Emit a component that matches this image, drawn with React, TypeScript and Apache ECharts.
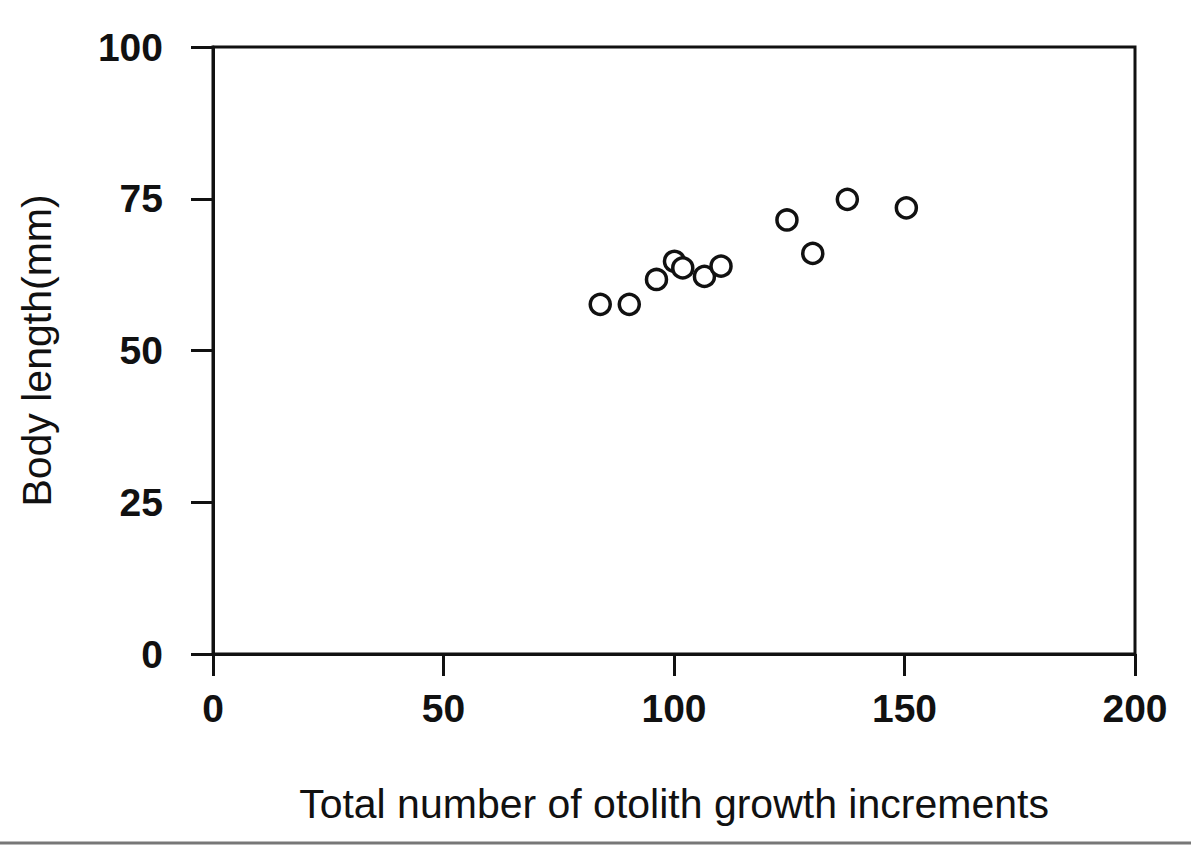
import React, { useEffect, useRef } from "react";
import * as echarts from "echarts";

const increments: number[] = [84, 90.3, 96.2, 100.1, 101.9, 106.6, 110.2, 124.5, 130.1, 137.6, 150.4];
const bodyLength: number[] = [57.6, 57.6, 61.7, 64.7, 63.6, 62.2, 63.9, 71.5, 66.0, 74.9, 73.5];
const xTicks: number[] = [0, 50, 100, 150, 200];
const yTicks: number[] = [0, 25, 50, 75, 100];
const xTitle = "Total number of otolith growth increments";
const yTitle = "Body length(mm)";

export default function App() {
  const ref = useRef<HTMLDivElement>(null);
  useEffect(() => {
    if (!ref.current) return;
    const chart = echarts.init(ref.current, null, { renderer: "svg" });
    const font = "'Liberation Sans', Arial, Helvetica, sans-serif";
    const ink = "#111";
    chart.setOption({
      animation: false,
      backgroundColor: "#fff",
      grid: {
        left: 213,
        right: 56,
        top: 47,
        bottom: 192,
        show: true,
        borderColor: ink,
        borderWidth: 3,
        backgroundColor: "transparent",
      },
      xAxis: {
        type: "value",
        min: xTicks[0],
        max: xTicks[xTicks.length - 1],
        interval: 50,
        name: xTitle,
        nameLocation: "middle",
        nameGap: 129,
        nameTextStyle: { fontFamily: font, fontSize: 41, color: ink, verticalAlign: "top" },
        axisLine: { show: true, onZero: false, lineStyle: { color: ink, width: 3 } },
        axisTick: { show: true, inside: false, length: 22, lineStyle: { color: ink, width: 3 } },
        axisLabel: { fontFamily: font, fontSize: 39, fontWeight: "bold", color: ink, margin: 35 },
        splitLine: { show: false },
      },
      yAxis: {
        type: "value",
        min: yTicks[0],
        max: yTicks[yTicks.length - 1],
        interval: 25,
        name: yTitle,
        nameLocation: "middle",
        nameGap: 156,
        nameRotate: 90,
        nameTextStyle: { fontFamily: font, fontSize: 41, color: ink },
        axisLine: { show: true, onZero: false, lineStyle: { color: ink, width: 3 } },
        axisTick: { show: true, inside: false, length: 22, lineStyle: { color: ink, width: 3 } },
        axisLabel: { fontFamily: font, fontSize: 39, fontWeight: "bold", color: ink, margin: 50 },
        splitLine: { show: false },
      },
      graphic: [
        {
          type: "line",
          shape: { x1: 0, y1: 843, x2: 1191, y2: 843 },
          style: { stroke: "#777", lineWidth: 3 },
        },
      ],
      series: [
        {
          type: "scatter",
          data: increments.map((x, i) => [x, bodyLength[i]]),
          symbol: "circle",
          symbolSize: 20,
          itemStyle: { color: "#fff", borderColor: ink, borderWidth: 3.5, opacity: 1 },
        },
      ],
    });
    return () => chart.dispose();
  }, []);
  return (
    <div
      ref={ref}
      style={{ position: "absolute", left: 0, top: 0, width: 1191, height: 846 }}
    />
  );
}
